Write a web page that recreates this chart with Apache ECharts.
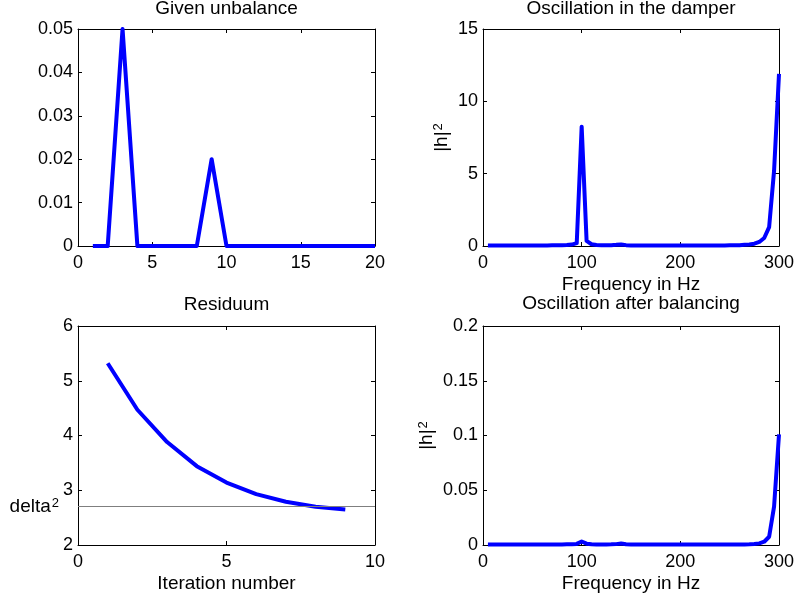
<!DOCTYPE html>
<html>
<head>
<meta charset="utf-8">
<script src="https://cdn.jsdelivr.net/npm/echarts@6/dist/echarts.min.js"></script>
<style>
html,body{margin:0;padding:0;background:#fff;}
#chart{width:800px;height:601px;}
</style>
</head>
<body>
<div id="chart"></div>
<script>
// ---- Data ----
const unbalancePos = [1,2,3,4,5,6,7,8,9,10,11,12,13,14,15,16,17,18,19,20];
const unbalanceVal = [0,0,0.05,0,0,0,0,0,0.02,0,0,0,0,0,0,0,0,0,0,0];

const freqHz = [5,10,15,20,25,30,35,40,45,50,55,60,65,70,75,80,85,90,95,100,
  105,110,115,120,125,130,135,140,145,150,155,160,165,170,175,180,185,190,195,200,
  205,210,215,220,225,230,235,240,245,250,255,260,265,270,275,280,285,290,295,300];

const damperH2 = [0.03,0.03,0.03,0.03,0.03,0.03,0.03,0.03,0.03,0.04,0.04,0.04,0.04,0.05,0.05,0.06,0.07,0.1,0.2,8.25,
  0.35,0.12,0.07,0.05,0.05,0.06,0.08,0.11,0.06,0.04,0.03,0.03,0.03,0.03,0.03,0.03,0.03,0.03,0.03,0.03,
  0.03,0.03,0.03,0.03,0.03,0.03,0.03,0.04,0.04,0.05,0.05,0.06,0.08,0.1,0.16,0.28,0.55,1.3,5.2,11.9];

const balancedH2 = [0.0005,0.0005,0.0005,0.0005,0.0005,0.0005,0.0005,0.0005,0.0005,0.0005,0.0005,0.0005,0.0005,0.0005,0.0005,0.0005,0.0006,0.0007,0.001,0.0032,
  0.0012,0.0006,0.0005,0.0005,0.0005,0.0006,0.0008,0.0013,0.0007,0.0005,0.0005,0.0005,0.0005,0.0005,0.0005,0.0005,0.0005,0.0005,0.0005,0.0005,
  0.0005,0.0005,0.0005,0.0005,0.0005,0.0005,0.0005,0.0005,0.0005,0.0005,0.0005,0.0005,0.0005,0.0006,0.0009,0.0015,0.003,0.0075,0.035,0.101];

const iterNo = [1,2,3,4,5,6,7,8,9];
const residuum = [5.32,4.47,3.88,3.44,3.14,2.93,2.79,2.70,2.65];
const deltaSq = 2.7;

const titles = ['Given unbalance','Oscillation in the damper','Residuum','Oscillation after balancing'];
const xNames = ['','Frequency in Hz','Iteration number','Frequency in Hz'];
const xRanges = [[0,20,5],[0,300,100],[0,10,5],[0,300,100]];
const yRanges = [[0,0.05,0.01],[0,15,5],[2,6,1],[0,0.2,0.05]];

// ---- Layout ----
const FONT = "'Liberation Sans', Arial, Helvetica, sans-serif";
const grids = [
  {left:78, top:29, width:297, height:217},
  {left:483, top:29, width:296, height:217},
  {left:78, top:326, width:297, height:219},
  {left:483, top:326, width:296, height:219}
];
const titleTops = [-1, -1, 295, 294];

const zip = (a,b) => a.map((v,i)=>[v,b[i]]);
const black = '#000';
const tickStyle = {show:true, inside:true, length:4, lineStyle:{color:black, width:1}};
const supStyle = {fontSize:13, fontFamily:FONT, color:black, verticalAlign:'top', lineHeight:13, padding:[0,0,9,1]};

const xAxis = [], yAxis = [];
for (let i=0;i<4;i++){
  xAxis.push({
    type:'value', gridIndex:i, position:'bottom',
    min:xRanges[i][0], max:xRanges[i][1], interval:xRanges[i][2],
    axisLine:{show:true, onZero:false, lineStyle:{color:black,width:1}},
    axisTick:tickStyle, splitLine:{show:false},
    axisLabel:{color:black, fontSize:18, fontFamily:FONT, margin:8},
    name:xNames[i], nameLocation:'middle', nameGap:29,
    nameTextStyle:{color:black, fontSize:19, fontFamily:FONT}
  });
}
for (let i=0;i<4;i++){
  xAxis.push({
    type:'value', gridIndex:i, position:'top',
    min:xRanges[i][0], max:xRanges[i][1], interval:xRanges[i][2],
    axisLine:{show:true, onZero:false, lineStyle:{color:black,width:1}},
    axisTick:tickStyle, splitLine:{show:false}, axisLabel:{show:false}
  });
}
const yNames = ['', '|h|{sup|2}', '', '|h|{sup|2}'];
const yNameGaps = [0, 31, 0, 46];
for (let i=0;i<4;i++){
  yAxis.push({
    type:'value', gridIndex:i, position:'left',
    min:yRanges[i][0], max:yRanges[i][1], interval:yRanges[i][2],
    axisLine:{show:true, onZero:false, lineStyle:{color:black,width:1}},
    axisTick:tickStyle, splitLine:{show:false},
    axisLabel:{color:black, fontSize:18, fontFamily:FONT, margin:5},
    name:yNames[i], nameLocation:'middle', nameGap:yNameGaps[i], nameRotate:90,
    nameTextStyle:{color:black, fontSize:19, fontFamily:FONT, rich:{sup:supStyle}}
  });
}
for (let i=0;i<4;i++){
  yAxis.push({
    type:'value', gridIndex:i, position:'right',
    min:yRanges[i][0], max:yRanges[i][1], interval:yRanges[i][2],
    axisLine:{show:true, onZero:false, lineStyle:{color:black,width:1}},
    axisTick:tickStyle, splitLine:{show:false}, axisLabel:{show:false}
  });
}

const lineBase = {type:'line', showSymbol:false, symbol:'none', silent:true, animation:false,
  lineStyle:{color:'#0000ff', width:4, join:'round'}};

const series = [
  Object.assign({}, lineBase, {xAxisIndex:0, yAxisIndex:0, data:zip(unbalancePos, unbalanceVal)}),
  Object.assign({}, lineBase, {xAxisIndex:1, yAxisIndex:1, data:zip(freqHz, damperH2)}),
  Object.assign({}, lineBase, {xAxisIndex:2, yAxisIndex:2, data:zip(iterNo, residuum),
    markLine:{silent:true, symbol:['none','none'], animation:false,
      lineStyle:{color:'#7f7f7f', width:1.2, type:'solid'},
      label:{show:true, position:'start', distance:19, color:black, fontFamily:FONT, fontSize:19,
        formatter:'delta{sup|2}', rich:{sup:supStyle}},
      data:[{yAxis:deltaSq}]}}),
  Object.assign({}, lineBase, {xAxisIndex:3, yAxisIndex:3, data:zip(freqHz, balancedH2)})
];

const title = titles.map((t,i)=>({
  text:t, left: grids[i].left + grids[i].width/2, top:titleTops[i], textAlign:'center', padding:0,
  textStyle:{color:black, fontSize:19, fontWeight:'normal', fontFamily:FONT}
}));

const chart = echarts.init(document.getElementById('chart'), null, {renderer:'canvas'});
chart.setOption({
  backgroundColor:'#fff',
  animation:false,
  title:title,
  grid:grids.map(g=>Object.assign({containLabel:false}, g)),
  xAxis:xAxis, yAxis:yAxis, series:series
});
</script>
</body>
</html>
